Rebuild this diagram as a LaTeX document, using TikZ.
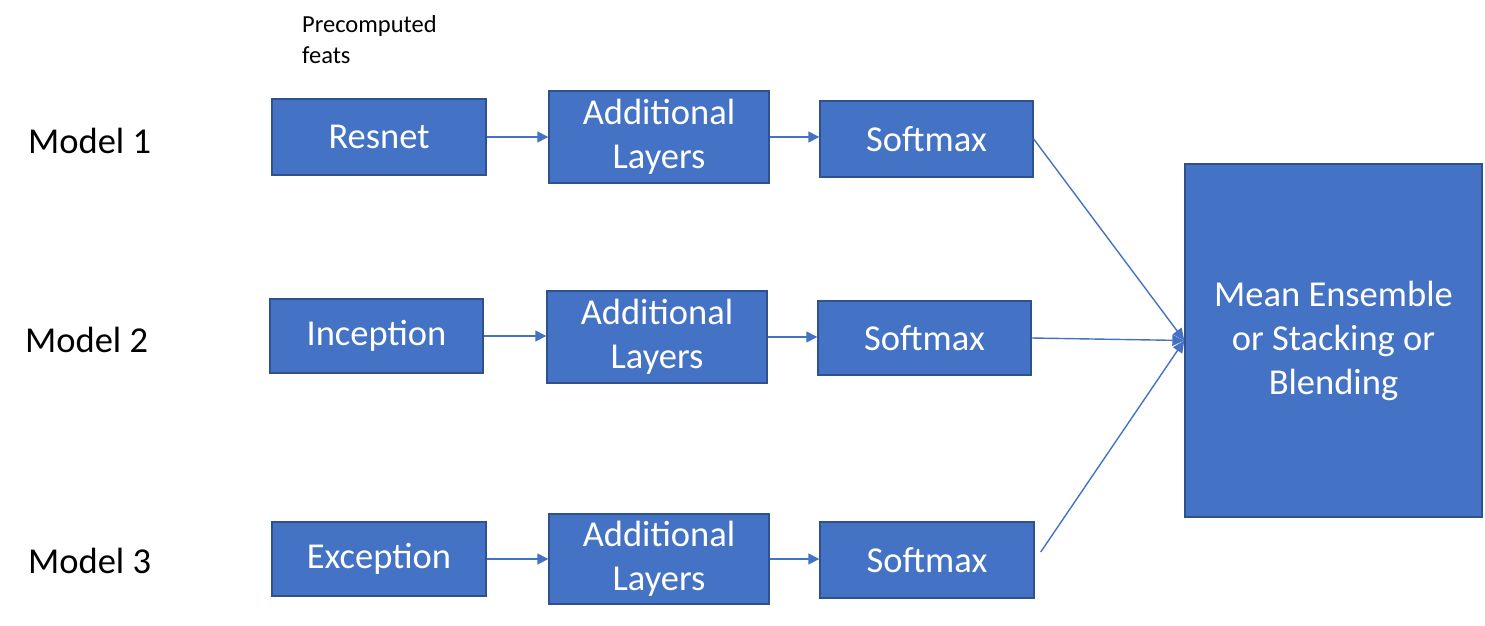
\documentclass[tikz,border=0pt]{standalone}
\usepackage{fontspec}
\setmainfont{Carlito}
\usetikzlibrary{arrows.meta,calc}
\definecolor{boxfill}{HTML}{4472C4}
\definecolor{boxline}{HTML}{2F528F}
\begin{document}
\begin{tikzpicture}[x=1pt,y=-1pt,
  blk/.style={draw=boxline,line width=1.4pt,fill=boxfill,text=white,inner sep=0pt,
    align=center,font=\fontsize{36.5}{44}\selectfont},
  lbl/.style={anchor=base west,inner sep=0pt,font=\fontsize{36.5}{44}\selectfont},
  conn/.style={draw=boxfill,line width=1.5pt,-{Triangle[length=11pt,width=11pt]}},
  mergeline/.style={draw=boxfill,line width=1.4pt,-{Triangle[length=12pt,width=11pt]}}]
\useasboundingbox (0,0) rectangle (1485,625);
% labels
\node[lbl] (m1) at (28,153) {Model 1};
\node[lbl] (m2) at (25,352) {Model 2};
\node[lbl] (m3) at (28,573) {Model 3};
\node[anchor=base west,inner sep=0pt,align=left,font=\fontsize{24.5}{31}\selectfont] (pre) at (302,63) {Precomputed\\feats};
% row 1
\node[blk,minimum width=214pt,minimum height=76pt] (r1) at (379,137) {Resnet};
\node[blk,minimum width=220pt,minimum height=92pt] (a1) at (659,137) {Additional\\Layers};
\node[blk,minimum width=213pt,minimum height=76pt] (s1) at (926.5,139) {Softmax};
% row 2
\node[blk,minimum width=213pt,minimum height=74pt] (r2) at (376.5,336) {Inception};
\node[blk,minimum width=220pt,minimum height=92pt] (a2) at (657,337) {Additional\\Layers};
\node[blk,minimum width=213pt,minimum height=74pt] (s2) at (924.5,338) {Softmax};
% row 3
\node[blk,minimum width=214pt,minimum height=74pt] (r3) at (379,559) {Exception};
\node[blk,minimum width=220pt,minimum height=90pt] (a3) at (659,559) {Additional\\Layers};
\node[blk,minimum width=214pt,minimum height=76pt] (s3) at (927,560) {Softmax};
% ensemble
\node[blk,minimum width=297pt,minimum height=353pt] (ens) at (1333.5,340.5) {Mean Ensemble\\or Stacking or\\Blending};
% connectors
\draw[conn] (r1.east) -- (r1.east -| a1.west);
\draw[conn] (a1.east) -- (a1.east -| s1.west);
\draw[conn] (r2.east) -- (r2.east -| a2.west);
\draw[conn] (a2.east) -- (a2.east -| s2.west);
\draw[conn] (r3.east) -- (r3.east -| a3.west);
\draw[conn] (a3.east) -- (a3.east -| s3.west);
\coordinate (s3out) at ($(s3.east)+(6,-8)$);
\draw[mergeline] (s1.east) -- (ens.west);
\draw[mergeline] (s2.east) -- (ens.west);
\draw[mergeline] (s3out) -- (ens.west);
\end{tikzpicture}
\end{document}
